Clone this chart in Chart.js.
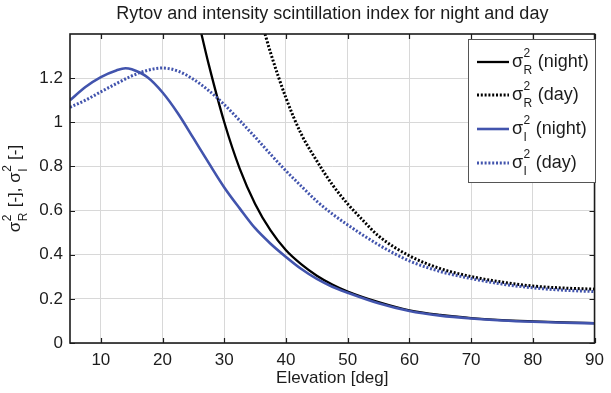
<!DOCTYPE html>
<html>
<head>
<meta charset="utf-8">
<script src="https://cdn.jsdelivr.net/npm/chart.js@4/dist/chart.umd.min.js"></script>
<style>
  html, body { margin: 0; padding: 0; background: #ffffff; }
  #wrap { width: 611px; height: 393px; position: relative; }
</style>
</head>
<body>
<div id="wrap"><canvas id="c" width="611" height="393"></canvas></div>
<script>
// ---------- data ----------
const titleText = 'Rytov and intensity scintillation index for night and day';
const xAxisLabel = 'Elevation [deg]';
const xTickValues = [10, 20, 30, 40, 50, 60, 70, 80, 90];
const yTickValues = [0, 0.2, 0.4, 0.6, 0.8, 1, 1.2];
const yTickLabels = ['0', '0.2', '0.4', '0.6', '0.8', '1', '1.2'];

// sigma_R^2 (night) - black solid
const elevRytovNight = [26.3, 27.5, 30, 32.5, 35, 37.5, 40, 42.5, 45, 47.5, 50, 55, 60, 65, 70, 75, 80, 85, 90];
const rytovNight     = [1.40, 1.26, 1.0, 0.79, 0.63, 0.51, 0.42, 0.356, 0.305, 0.265, 0.233, 0.185, 0.148, 0.127, 0.113, 0.104, 0.098, 0.093, 0.09];

// sigma_R^2 (day) - black dotted
const elevRytovDay = [36.6, 37.5, 40, 42.5, 45, 47.5, 50, 52.5, 55, 60, 65, 70, 75, 80, 85, 90];
const rytovDay     = [1.40, 1.315, 1.11, 0.945, 0.825, 0.718, 0.63, 0.555, 0.485, 0.395, 0.337, 0.301, 0.276, 0.258, 0.249, 0.244];

// sigma_I^2 (night) - blue solid
const elevIntNight = [5, 7.5, 10, 12.5, 14, 15, 17.5, 20, 22.5, 25, 27.5, 30, 32.5, 35, 37.5, 40, 42.5, 45, 47.5, 50, 55, 60, 65, 70, 75, 80, 85, 90];
const intNight     = [1.10, 1.16, 1.205, 1.235, 1.245, 1.24, 1.205, 1.135, 1.04, 0.928, 0.815, 0.705, 0.61, 0.52, 0.45, 0.39, 0.335, 0.29, 0.255, 0.228, 0.18, 0.145, 0.124, 0.111, 0.102, 0.096, 0.092, 0.089];

// sigma_I^2 (day) - blue dotted
const elevIntDay = [5, 7.5, 10, 12.5, 15, 17.5, 20, 22.5, 25, 27.5, 30, 32.5, 35, 37.5, 40, 42.5, 45, 47.5, 50, 55, 60, 65, 70, 75, 80, 85, 90];
const intDay     = [1.068, 1.10, 1.138, 1.175, 1.21, 1.235, 1.246, 1.232, 1.195, 1.143, 1.08, 1.008, 0.933, 0.855, 0.78, 0.71, 0.642, 0.585, 0.535, 0.445, 0.372, 0.324, 0.292, 0.267, 0.25, 0.239, 0.233];

// ---------- styling ----------
const FONT = "'Liberation Sans', Arial, Helvetica, sans-serif";
const INK = '#1c1c1c';
const BLUE = '#4254ad';
const GRID = '#d8d8d8';

const toPoints = (xs, ys) => xs.map((x, i) => ({ x: x, y: ys[i] }));

function drawMath(ctx, tokens, x, y, size, align) {
  const small = Math.round(size * 0.68);
  const widths = tokens.map(t => {
    if (typeof t === 'string') {
      ctx.font = size + 'px ' + FONT;
      return ctx.measureText(t).width;
    }
    ctx.font = small + 'px ' + FONT;
    return Math.max(ctx.measureText(t.sup).width, ctx.measureText(t.sub).width) + 1;
  });
  const total = widths.reduce((a, b) => a + b, 0);
  let cx = align === 'center' ? x - total / 2 : x;
  ctx.textAlign = 'left';
  ctx.textBaseline = 'alphabetic';
  tokens.forEach((t, i) => {
    if (typeof t === 'string') {
      ctx.font = size + 'px ' + FONT;
      ctx.fillText(t, cx, y);
    } else {
      ctx.font = small + 'px ' + FONT;
      ctx.fillText(t.sup, cx + 0.5, y - size * 0.55);
      ctx.fillText(t.sub, cx + 0.5, y + size * 0.40);
    }
    cx += widths[i];
  });
}

const matlabAxes = {
  id: 'matlabAxes',
  afterDraw(chart) {
    const ctx = chart.ctx;
    const a = chart.chartArea;
    const xs = chart.scales.x, ys = chart.scales.y;
    ctx.save();
    // inward tick marks on all four sides
    ctx.strokeStyle = INK;
    ctx.lineWidth = 1.2;
    ctx.setLineDash([]);
    ctx.beginPath();
    xTickValues.forEach(v => {
      const px = Math.round(xs.getPixelForValue(v)) + 0.5;
      ctx.moveTo(px, a.bottom); ctx.lineTo(px, a.bottom - 5);
      ctx.moveTo(px, a.top); ctx.lineTo(px, a.top + 5);
    });
    yTickValues.forEach(v => {
      const py = Math.round(ys.getPixelForValue(v)) + 0.5;
      ctx.moveTo(a.left, py); ctx.lineTo(a.left + 5, py);
      ctx.moveTo(a.right, py); ctx.lineTo(a.right - 5, py);
    });
    ctx.stroke();
    // axes box
    ctx.lineWidth = 1.6;
    ctx.strokeRect(a.left, a.top, a.right - a.left, a.bottom - a.top);

    // y-axis label (rotated, with stacked super/subscripts)
    ctx.fillStyle = INK;
    ctx.save();
    ctx.translate(20, (a.top + a.bottom) / 2);
    ctx.rotate(-Math.PI / 2);
    drawMath(ctx, ['σ', { sup: '2', sub: 'R' }, ' [-], σ', { sup: '2', sub: 'I' }, ' [-]'], 0, 0, 17, 'center');
    ctx.restore();

    // legend
    const lx = 468, ly = 39, lw = 127, lh = 143;
    ctx.fillStyle = '#ffffff';
    ctx.fillRect(lx, ly, lw, lh);
    ctx.strokeStyle = '#555555';
    ctx.lineWidth = 1;
    ctx.strokeRect(lx + 0.5, ly + 0.5, lw, lh);
    const rows = [62, 95, 129, 163];
    chart.data.datasets.forEach((ds, i) => {
      const ry = rows[i];
      ctx.save();
      ctx.strokeStyle = ds.borderColor;
      ctx.lineWidth = ds.borderWidth;
      ctx.setLineDash(ds.borderDash || []);
      ctx.beginPath();
      ctx.moveTo(477, ry); ctx.lineTo(509, ry);
      ctx.stroke();
      ctx.restore();
      ctx.fillStyle = INK;
      drawMath(ctx, ['σ', { sup: '2', sub: ds.sub }, ' ' + ds.suffix], 512, ry + 5, 18, 'left');
    });
    ctx.restore();
  }
};

const chart = new Chart(document.getElementById('c'), {
  type: 'line',
  data: {
    datasets: [
      { label: 'σR² (night)', sub: 'R', suffix: '(night)', data: toPoints(elevRytovNight, rytovNight),
        borderColor: '#000000', borderWidth: 2.3, borderDash: [], order: 4 },
      { label: 'σR² (day)', sub: 'R', suffix: '(day)', data: toPoints(elevRytovDay, rytovDay),
        borderColor: '#000000', borderWidth: 3, borderDash: [2, 1.8], order: 3 },
      { label: 'σI² (night)', sub: 'I', suffix: '(night)', data: toPoints(elevIntNight, intNight),
        borderColor: BLUE, borderWidth: 2.6, borderDash: [], order: 2 },
      { label: 'σI² (day)', sub: 'I', suffix: '(day)', data: toPoints(elevIntDay, intDay),
        borderColor: BLUE, borderWidth: 3, borderDash: [2, 1.8], order: 1 }
    ]
  },
  options: {
    responsive: false,
    animation: false,
    devicePixelRatio: 1,
    layout: { padding: { left: 0, right: 11, top: 0, bottom: 0 } },
    elements: {
      point: { radius: 0, hoverRadius: 0 },
      line: { cubicInterpolationMode: 'monotone', fill: false, borderCapStyle: 'butt' }
    },
    plugins: {
      legend: { display: false },
      tooltip: { enabled: false },
      title: {
        display: true, text: titleText, fullSize: false, color: INK,
        font: { family: FONT, size: 18, weight: 'normal' },
        padding: { top: 3, bottom: 9.4 }
      }
    },
    scales: {
      x: {
        type: 'linear', min: 5, max: 90,
        afterBuildTicks: s => { s.ticks = xTickValues.map(v => ({ value: v })); },
        afterFit: s => { s.height = 50; },
        ticks: { color: INK, font: { family: FONT, size: 17 }, padding: 7, maxRotation: 0,
                 callback: v => String(v) },
        grid: { color: GRID, lineWidth: 1, drawTicks: false },
        border: { display: false },
        title: { display: true, text: xAxisLabel, color: INK, font: { family: FONT, size: 17 },
                 padding: { top: 0, bottom: 4 } }
      },
      y: {
        type: 'linear', min: 0, max: 1.4,
        afterBuildTicks: s => { s.ticks = yTickValues.map(v => ({ value: v })); },
        afterFit: s => { s.width = 70; },
        ticks: { color: INK, font: { family: FONT, size: 17 }, padding: 7,
                 callback: (v, i) => yTickLabels[i] },
        grid: { color: GRID, lineWidth: 1, drawTicks: false },
        border: { display: false }
      }
    }
  },
  plugins: [matlabAxes]
});
</script>
</body>
</html>
